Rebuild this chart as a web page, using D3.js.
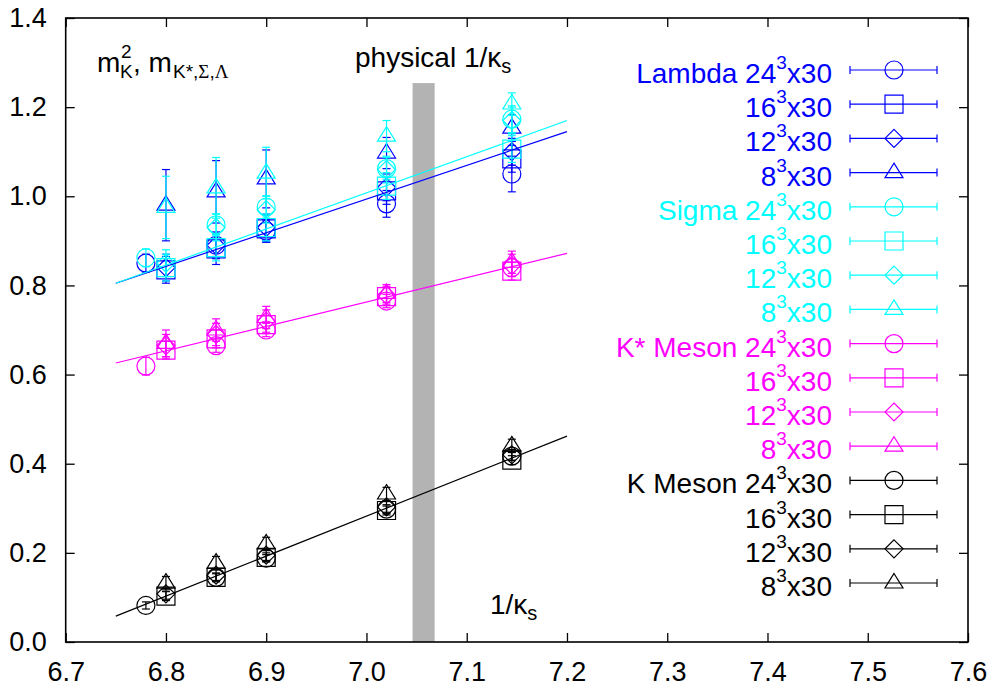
<!DOCTYPE html>
<html lang="en">
<head>
    <meta charset="UTF-8">
    <script src="https://cdn.jsdelivr.net/npm/d3@7"></script>
    <style type="text/css">
        * { margin: 0; padding: 0; }
        body { background-color: white; }
        svg { display: block; font-family: "Liberation Sans", Arial, Helvetica, sans-serif; }
    </style>
    <title>hadron masses vs 1/kappa</title>
</head>
<body>
    <div id="chart"></div>

    <script>
        // 1/kappa_s values: 24^3 lattice and the smaller lattices
        var kappa24 = [6.78, 6.85, 6.90, 7.02, 7.145];
        var kappaSmall = [6.80, 6.85, 6.90, 7.02, 7.145];

        // Lambda
        var lambda24 = [0.850, 0.890, 0.922, 0.983, 1.050];
        var lambda24Err = [0.020, 0.025, 0.025, 0.030, 0.040];
        var lambda16 = [0.835, 0.882, 0.927, 1.012, 1.084];
        var lambda16Err = [0.030, 0.035, 0.030, 0.030, 0.030];
        var lambda12 = [0.840, 0.890, 0.930, 1.020, 1.100];
        var lambda12Err = [0.030, 0.030, 0.030, 0.030, 0.030];
        var lambda8 = [0.980, 1.010, 1.039, 1.097, 1.153];
        var lambda8Err = [0.080, 0.070, 0.065, 0.035, 0.030];

        // Sigma
        var sigma24 = [0.862, 0.936, 0.976, 1.062, 1.173];
        var sigma24Err = [0.020, 0.025, 0.025, 0.025, 0.030];
        var sigma16 = [0.840, 0.885, 0.930, 1.023, 1.106];
        var sigma16Err = [0.030, 0.030, 0.030, 0.030, 0.030];
        var sigma12 = [0.850, 0.930, 0.970, 1.060, 1.170];
        var sigma12Err = [0.030, 0.030, 0.030, 0.030, 0.030];
        var sigma8 = [0.975, 1.019, 1.052, 1.135, 1.207];
        var sigma8Err = [0.070, 0.068, 0.058, 0.035, 0.025];

        // K* meson
        var kstar24 = [0.619, 0.665, 0.700, 0.765, 0.840];
        var kstar24Err = [0.020, 0.015, 0.015, 0.015, 0.020];
        var kstar16 = [0.655, 0.680, 0.712, 0.775, 0.832];
        var kstar16Err = [0.020, 0.020, 0.020, 0.020, 0.020];
        var kstar12 = [0.665, 0.690, 0.720, 0.778, 0.845];
        var kstar12Err = [0.025, 0.025, 0.025, 0.020, 0.025];
        var kstar8 = [0.670, 0.700, 0.728, 0.782, 0.852];
        var kstar8Err = [0.030, 0.025, 0.025, 0.020, 0.025];

        // K meson (m^2)
        var kaon24 = [0.082, 0.145, 0.188, 0.298, 0.417];
        var kaon24Err = [0.008, 0.008, 0.008, 0.010, 0.010];
        var kaon16 = [0.103, 0.145, 0.190, 0.295, 0.408];
        var kaon16Err = [0.010, 0.010, 0.010, 0.010, 0.010];
        var kaon12 = [0.108, 0.150, 0.195, 0.303, 0.420];
        var kaon12Err = [0.012, 0.012, 0.012, 0.012, 0.012];
        var kaon8 = [0.132, 0.177, 0.220, 0.332, 0.440];
        var kaon8Err = [0.015, 0.015, 0.015, 0.015, 0.015];

        // linear fits (end points)
        var fitX = [6.75, 7.2];
        var fitLambda = [0.805, 1.145];
        var fitSigma = [0.805, 1.170];
        var fitKstar = [0.626, 0.872];
        var fitKaon = [0.058, 0.462];

        // physical 1/kappa_s band
        var physBand = [7.046, 7.068];
        var physTop = 1.254;

        var xTicks = [6.7, 6.8, 6.9, 7.0, 7.1, 7.2, 7.3, 7.4, 7.5, 7.6];
        var yTicks = [0.0, 0.2, 0.4, 0.6, 0.8, 1.0, 1.2, 1.4];

        var cBlue = "#0000ff", cCyan = "#00ffff", cMag = "#ff00ff", cBlack = "#000000";

        var series = [
            {name: "Lambda", lat: "24", sym: "circle", color: cBlue, x: kappa24, y: lambda24, e: lambda24Err},
            {name: "", lat: "16", sym: "square", color: cBlue, x: kappaSmall, y: lambda16, e: lambda16Err},
            {name: "", lat: "12", sym: "diamond", color: cBlue, x: kappaSmall, y: lambda12, e: lambda12Err},
            {name: "", lat: "8", sym: "triangle", color: cBlue, x: kappaSmall, y: lambda8, e: lambda8Err},
            {name: "Sigma", lat: "24", sym: "circle", color: cCyan, x: kappa24, y: sigma24, e: sigma24Err},
            {name: "", lat: "16", sym: "square", color: cCyan, x: kappaSmall, y: sigma16, e: sigma16Err},
            {name: "", lat: "12", sym: "diamond", color: cCyan, x: kappaSmall, y: sigma12, e: sigma12Err},
            {name: "", lat: "8", sym: "triangle", color: cCyan, x: kappaSmall, y: sigma8, e: sigma8Err},
            {name: "K* Meson", lat: "24", sym: "circle", color: cMag, x: kappa24, y: kstar24, e: kstar24Err},
            {name: "", lat: "16", sym: "square", color: cMag, x: kappaSmall, y: kstar16, e: kstar16Err},
            {name: "", lat: "12", sym: "diamond", color: cMag, x: kappaSmall, y: kstar12, e: kstar12Err},
            {name: "", lat: "8", sym: "triangle", color: cMag, x: kappaSmall, y: kstar8, e: kstar8Err},
            {name: "K Meson", lat: "24", sym: "circle", color: cBlack, x: kappa24, y: kaon24, e: kaon24Err},
            {name: "", lat: "16", sym: "square", color: cBlack, x: kappaSmall, y: kaon16, e: kaon16Err},
            {name: "", lat: "12", sym: "diamond", color: cBlack, x: kappaSmall, y: kaon12, e: kaon12Err},
            {name: "", lat: "8", sym: "triangle", color: cBlack, x: kappaSmall, y: kaon8, e: kaon8Err}
        ];

        var fits = [
            {y: fitLambda, color: cBlue},
            {y: fitSigma, color: cCyan},
            {y: fitKstar, color: cMag},
            {y: fitKaon, color: cBlack}
        ];

        var w = 995, h = 693;
        var plotL = 65.7, plotR = 968, plotT = 18, plotB = 642;
        var tickLen = 9;

        var xScale = d3.scaleLinear().domain([6.7, 7.6]).range([plotL, plotR]);
        var yScale = d3.scaleLinear().domain([0, 1.4]).range([plotB, plotT]);

        var svg = d3.select("#chart").append("svg")
            .attr("width", w)
            .attr("height", h);

        // symbol shapes, centred on 0,0
        var circ = d3.path();
        circ.arc(0, 0, 9, 0, 2 * Math.PI);
        var symPath = {
            circle: circ.toString(),
            square: "M-9,-9H9V9H-9Z",
            diamond: "M0,-9L9,0L0,9L-9,0Z",
            triangle: "M0,-9.5L9,5L-9,5Z"
        };

        // physical band
        svg.append("rect")
            .attr("x", xScale(physBand[0]))
            .attr("y", yScale(physTop))
            .attr("width", xScale(physBand[1]) - xScale(physBand[0]))
            .attr("height", yScale(0) - yScale(physTop))
            .attr("fill", "#b3b3b3");

        // axes (ticks point inwards, mirrored on top/right)
        var fmt = d3.format(".1f");
        var xAxis = d3.axisBottom(xScale).tickValues(xTicks).tickFormat(fmt)
            .tickSizeInner(-tickLen).tickSizeOuter(0).tickPadding(20);
        var yAxis = d3.axisLeft(yScale).tickValues(yTicks).tickFormat(fmt)
            .tickSizeInner(-tickLen).tickSizeOuter(0).tickPadding(19);
        var xTop = d3.axisTop(xScale).tickValues(xTicks).tickFormat("")
            .tickSizeInner(-tickLen).tickSizeOuter(0);
        var yRight = d3.axisRight(yScale).tickValues(yTicks).tickFormat("")
            .tickSizeInner(-tickLen).tickSizeOuter(0);

        function styleAxis(g) {
            g.select(".domain").remove();
            g.selectAll("line").attr("stroke", "#000").attr("stroke-width", 1.3);
            g.selectAll("text").attr("font-size", "27px").attr("fill", "#000")
                .attr("font-family", "Liberation Sans, Arial, sans-serif");
        }

        svg.append("g").attr("transform", "translate(0," + plotB + ")").call(xAxis).call(styleAxis);
        svg.append("g").attr("transform", "translate(" + plotL + ",0)").call(yAxis).call(styleAxis);
        svg.append("g").attr("transform", "translate(0," + plotT + ")").call(xTop).call(styleAxis);
        svg.append("g").attr("transform", "translate(" + plotR + ",0)").call(yRight).call(styleAxis);

        svg.append("rect")
            .attr("x", plotL).attr("y", plotT)
            .attr("width", plotR - plotL).attr("height", plotB - plotT)
            .attr("fill", "none").attr("stroke", "#000").attr("stroke-width", 1.6);

        // data points with error bars
        var cap = 4;
        series.forEach(function(s) {
            var g = svg.append("g").attr("stroke", s.color).attr("fill", "none").attr("stroke-width", 1.2);
            var pts = s.x.map(function(xv, i) { return {x: xv, y: s.y[i], e: s.e[i]}; });
            var p = g.selectAll("g").data(pts).enter().append("g")
                .attr("transform", function(d) { return "translate(" + xScale(d.x) + ",0)"; });
            p.append("line")
                .attr("x1", 0).attr("x2", 0)
                .attr("y1", function(d) { return yScale(d.y - d.e); })
                .attr("y2", function(d) { return yScale(d.y + d.e); });
            p.append("line")
                .attr("x1", -cap).attr("x2", cap)
                .attr("y1", function(d) { return yScale(d.y - d.e); })
                .attr("y2", function(d) { return yScale(d.y - d.e); });
            p.append("line")
                .attr("x1", -cap).attr("x2", cap)
                .attr("y1", function(d) { return yScale(d.y + d.e); })
                .attr("y2", function(d) { return yScale(d.y + d.e); });
            p.append("path")
                .attr("d", symPath[s.sym])
                .attr("transform", function(d) { return "translate(0," + yScale(d.y) + ")"; });
        });

        // fit lines
        var line = d3.line()
            .x(function(d) { return xScale(d[0]); })
            .y(function(d) { return yScale(d[1]); });
        fits.forEach(function(f) {
            svg.append("path")
                .attr("d", line(fitX.map(function(xv, i) { return [xv, f.y[i]]; })))
                .attr("fill", "none")
                .attr("stroke", f.color)
                .attr("stroke-width", 1.2);
        });

        // legend
        var legY0 = 70, legStep = 34.2, legTextX = 832;
        var leg = svg.append("g");
        series.forEach(function(s, i) {
            var yy = legY0 + i * legStep;
            var t = leg.append("text")
                .attr("x", legTextX).attr("y", yy + 13)
                .attr("text-anchor", "end")
                .attr("fill", s.color)
                .attr("font-size", "28px");
            t.append("tspan").text((s.name ? s.name + " " : "") + s.lat);
            t.append("tspan").attr("dy", -14).attr("font-size", "19px").text("3");
            t.append("tspan").attr("dy", 14).text("x30");

            var g = leg.append("g").attr("stroke", s.color).attr("fill", "none").attr("stroke-width", 1.2);
            g.append("line").attr("x1", 850).attr("x2", 937).attr("y1", yy).attr("y2", yy);
            g.append("line").attr("x1", 850).attr("x2", 850).attr("y1", yy - 4).attr("y2", yy + 4);
            g.append("line").attr("x1", 937).attr("x2", 937).attr("y1", yy - 4).attr("y2", yy + 4);
            g.append("path").attr("d", symPath[s.sym]).attr("transform", "translate(894," + yy + ")");
        });

        // annotations
        var ann = svg.append("g").attr("fill", "#000");
        ann.append("text").attr("x", 97).attr("y", 72).attr("font-size", "28px").text("m");
        ann.append("text").attr("x", 121).attr("y", 58).attr("font-size", "19px").text("2");
        ann.append("text").attr("x", 120).attr("y", 78).attr("font-size", "19px").text("K");
        ann.append("text").attr("x", 133).attr("y", 72).attr("font-size", "28px").text(", m");
        var sub = ann.append("text").attr("x", 173).attr("y", 78).attr("font-size", "19px");
        sub.append("tspan").text("K*,");
        sub.append("tspan").attr("font-family", "Liberation Serif, serif").text("Σ");
        sub.append("tspan").text(",");
        sub.append("tspan").attr("font-family", "Liberation Serif, serif").text("Λ");

        var phys = ann.append("text").attr("x", 355).attr("y", 67).attr("font-size", "28px");
        phys.append("tspan").text("physical 1/κ");
        phys.append("tspan").attr("dy", 6).attr("font-size", "20px").text("s");

        var xl = ann.append("text").attr("x", 490).attr("y", 614).attr("font-size", "28px");
        xl.append("tspan").text("1/κ");
        xl.append("tspan").attr("dy", 6).attr("font-size", "20px").text("s");
    </script>
</body>
</html>
